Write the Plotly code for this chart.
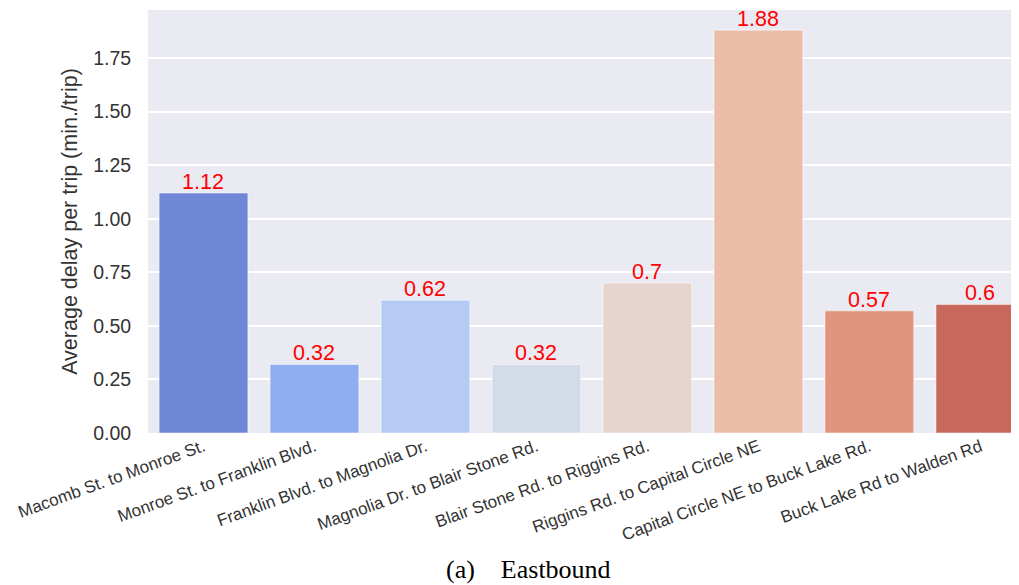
import plotly.graph_objects as go

categories = ["Macomb St. to Monroe St.", "Monroe St. to Franklin Blvd.",
              "Franklin Blvd. to Magnolia Dr.", "Magnolia Dr. to Blair Stone Rd.",
              "Blair Stone Rd. to Riggins Rd.", "Riggins Rd. to Capital Circle NE",
              "Capital Circle NE to Buck Lake Rd.", "Buck Lake Rd to Walden Rd"]
values = [1.12, 0.32, 0.62, 0.32, 0.7, 1.88, 0.57, 0.6]
colors = ["#6F87D6", "#8FADF0", "#B5CBF4", "#D3DBE8", "#E6D5CE", "#EBBCA7", "#E0957D", "#C8675B"]
y_ticks = [0, 0.25, 0.5, 0.75, 1.0, 1.25, 1.5, 1.75]
y_ticklabels = ["0.00", "0.25", "0.50", "0.75", "1.00", "1.25", "1.50", "1.75"]

xs = list(range(len(categories)))
fig = go.Figure(go.Bar(
    x=xs, y=values, width=0.8,
    marker=dict(color=colors, line=dict(color="rgba(255,255,255,0.5)", width=1)),
))
for x, v in zip(xs, values):
    fig.add_annotation(x=x, y=v, text=str(v), showarrow=False, xanchor="center",
                       yanchor="bottom", yshift=-3,
                       font=dict(color="red", size=21.5, family="Liberation Sans"))

fig.update_layout(
    width=1019, height=585,
    margin=dict(l=140, r=0, t=2, b=160, autoexpand=False),
    paper_bgcolor="white", plot_bgcolor="#EAEAF2",
    font=dict(family="Liberation Sans", color="#333333"),
    showlegend=False,
    xaxis=dict(tickmode="array", tickvals=xs, ticktext=categories,
               tickangle=-20, range=[-0.5, 7.42], showgrid=False, zeroline=False,
               automargin=False,
               tickfont=dict(size=17, color="#333333"), ticks=""),
    yaxis=dict(range=[0, 1.974], tickmode="array", tickvals=y_ticks, ticktext=y_ticklabels,
               gridcolor="white", gridwidth=1.5, zeroline=False, automargin=False,
               ticks="outside", ticklen=12, tickcolor="rgba(0,0,0,0)",
               tickfont=dict(size=19.5, color="#333333"),
               title=dict(text="Average delay per trip (min./trip)", font=dict(size=21.5, color="#333333"),
                          standoff=9)),
)
fig.add_annotation(text="(a)&nbsp;&nbsp;&nbsp;&nbsp;Eastbound", xref="paper", yref="paper",
                   x=(528 - 148) / (1027 - 148), y=-(569 - 433) / (433 - 10),
                   showarrow=False, font=dict(family="Liberation Serif", size=26, color="black"),
                   xanchor="center", yanchor="middle")

fig.write_html("out.html")
